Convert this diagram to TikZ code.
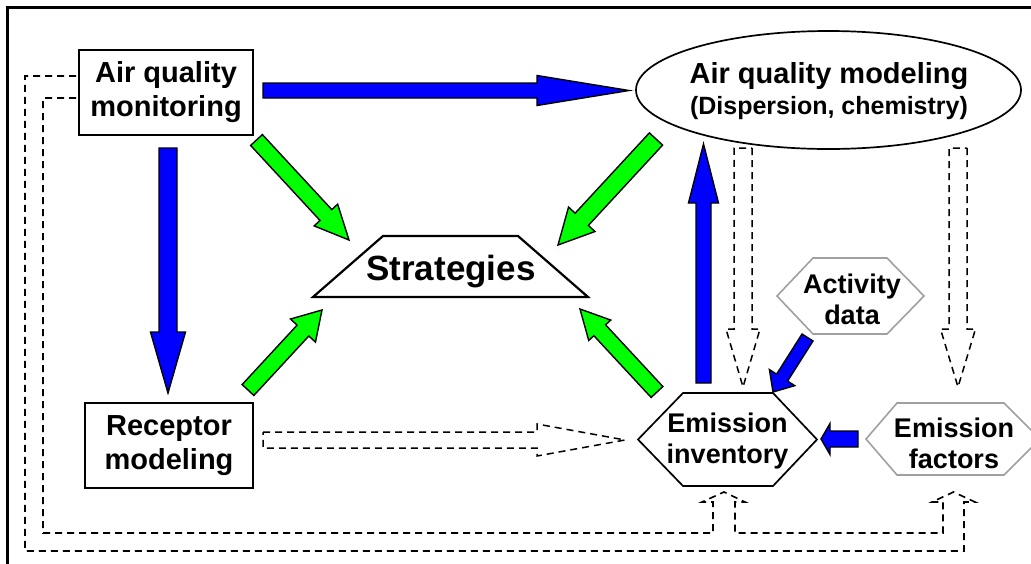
\documentclass[tikz,border=0pt]{standalone}
\usepackage{fontspec}
\setmainfont{Liberation Sans}
\usetikzlibrary{calc}
\definecolor{arrblue}{RGB}{0,0,255}
\definecolor{arrgreen}{RGB}{0,255,0}
\definecolor{hexgray}{RGB}{160,160,160}
% block arrow: #1 style, #2 tail, #3 tip, #4 shaft half width, #5 head half width, #6 head length
\newcommand\blockarrow[6]{%
  \coordinate (baH) at ($(#3)!#6!(#2)$);
  \draw[#1] ($(#2)!#4!90:(#3)$) -- ($(baH)!#4!90:(#3)$) -- ($(baH)!#5!90:(#3)$) -- (#3)
     -- ($(baH)!#5!-90:(#3)$) -- ($(baH)!#4!-90:(#3)$) -- ($(#2)!#4!-90:(#3)$) -- cycle;}
\begin{document}
\begin{tikzpicture}[x=1pt,y=-1pt,
  box/.style={draw, line width=2pt, fill=white, inner sep=0pt, align=center,
              font=\bfseries\fontsize{29}{34}\selectfont},
  lbl/.style={align=center, inner sep=0pt},
  hexfont/.style={font=\bfseries\fontsize{27}{31}\selectfont},
  blackshape/.style={draw=black, line width=1.7pt, line join=miter},
  grayshape/.style={draw=hexgray, line width=1.6pt, line join=miter},
  barr/.style={fill=arrblue, draw=black, line width=1.4pt, line join=miter},
  garr/.style={fill=arrgreen, draw=black, line width=1.4pt, line join=miter},
  darr/.style={fill=white, draw=black, line width=1.5pt, dash pattern=on 7pt off 5pt},
  fback/.style={draw=black, line width=1.6pt, dash pattern=on 7pt off 5pt}]
\useasboundingbox (0,0) rectangle (1031,563);
% frame
\draw[line width=2.3pt] (7.5,570) -- (7.5,7.5) -- (1040,7.5);

% shapes
\node[box, minimum width=174pt, minimum height=85pt] (aqm) at (166,92.5) {Air quality\\monitoring};
\node[box, minimum width=168pt, minimum height=85pt] (rec) at (169,445.5) {Receptor\\modeling};
\draw[blackshape] (828.5,90) ellipse [x radius=192.5, y radius=59];
\draw[blackshape, line width=2.2pt] (313,297) -- (383,236) -- (518,236) -- (588,297) -- cycle;
\draw[blackshape] (638,439.5) -- (683,393) -- (773,393) -- (817,439.5) -- (773,486) -- (683,486) -- cycle;
\draw[grayshape] (866,439) -- (897,403) -- (1004,403) -- (1040,439) -- (1004,475) -- (897,475) -- cycle;
\draw[grayshape] (777,296) -- (813,258) -- (887,258) -- (924,296) -- (887,334) -- (813,334) -- cycle;

% labels
\node[lbl, font=\bfseries\fontsize{29}{31}\selectfont] (aqmod) at (829,91.5)
  {Air quality modeling\\{\fontsize{25}{31}\selectfont (Dispersion, chemistry)}};
\node[lbl, font=\bfseries\fontsize{35}{40}\selectfont] (str) at (451,272) {Strategies};
\node[lbl, hexfont] (inv) at (727.5,441) {Emission\\inventory};
\node[lbl, hexfont] (ef) at (954,443) {Emission\\factors};
\node[lbl, hexfont] (act) at (852,299) {Activity\\data};

% arrow end points
\coordinate (b1s) at (263,90.5);   \coordinate (b1e) at (629,90.5);
\coordinate (b2s) at (168,148);    \coordinate (b2e) at (168,393);
\coordinate (b3s) at (703.5,383);  \coordinate (b3e) at (703.5,144);
\coordinate (b4s) at (807.5,337.5);\coordinate (b4e) at (773,392);
\coordinate (b5s) at (858,439);    \coordinate (b5e) at (821,439);
\coordinate (g1s) at (256.5,140);  \coordinate (g1e) at (349,240);
\coordinate (g2s) at (656,139);    \coordinate (g2e) at (558,245);
\coordinate (g3s) at (248,390);    \coordinate (g3e) at (322,310);
\coordinate (g4s) at (657,392);    \coordinate (g4e) at (580,309);
\coordinate (d1s) at (263,440);    \coordinate (d1e) at (625,440);
\coordinate (d2s) at (743,148);    \coordinate (d2e) at (743,387);
\coordinate (d3s) at (958,148);    \coordinate (d3e) at (958,387);

% blue arrows
\blockarrow{barr}{b1s}{b1e}{7.5pt}{15pt}{92pt}
\blockarrow{barr}{b2s}{b2e}{9pt}{17.5pt}{61pt}
\blockarrow{barr}{b3s}{b3e}{7.5pt}{15pt}{59pt}
\blockarrow{barr}{b4s}{b4e}{6.5pt}{15pt}{17pt}
\blockarrow{barr}{b5s}{b5e}{8pt}{15.5pt}{9pt}
% green arrows
\blockarrow{garr}{g1s}{g1e}{8pt}{16pt}{34pt}
\blockarrow{garr}{g2s}{g2e}{9pt}{18pt}{35pt}
\blockarrow{garr}{g3s}{g3e}{8pt}{17pt}{28pt}
\blockarrow{garr}{g4s}{g4e}{8pt}{15pt}{29pt}
% dashed hollow arrows
\blockarrow{darr}{d1s}{d1e}{8pt}{16pt}{88pt}
\blockarrow{darr}{d2s}{d2e}{9pt}{17pt}{58pt}
\blockarrow{darr}{d3s}{d3e}{9pt}{17.5pt}{58pt}

% feedback path from monitoring to emission inventory and emission factors
\coordinate (fbin) at (76,98);
\coordinate (fbout) at (76,76);
\draw[fback] (fbin) -- (43,98) -- (43,533) -- (713,533) -- (713,502) -- (702,502) -- (724,492)
  -- (745,502) -- (735,502) -- (735,533) -- (943,533) -- (943,502) -- (932,502) -- (953.5,492)
  -- (975,502) -- (964,502) -- (964,551) -- (25,551) -- (25,76) -- (fbout);
\end{tikzpicture}
\end{document}
